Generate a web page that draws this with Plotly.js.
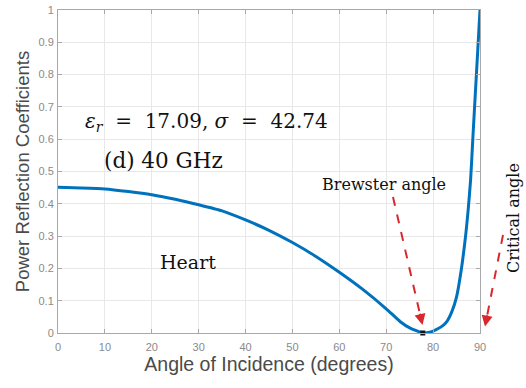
<!DOCTYPE html>
<html>
<head>
<meta charset="utf-8">
<script src="https://cdn.plot.ly/plotly-3.0.1.min.js"></script>
<style>html,body{margin:0;padding:0;background:#fff;}#chart{width:526px;height:388px;}</style>
</head>
<body>
<div id="chart"></div>
<script>
// Angle of incidence (degrees) and power reflection coefficient
const angles = [0, 5, 10, 15, 20, 25, 30, 35, 40, 45, 50, 55, 60, 65, 70, 73, 75, 77.8, 79, 80, 81, 82, 83, 84, 85, 86, 87, 87.5, 88, 88.5, 89, 89.5, 90];
const reflection = [0.451, 0.449, 0.446, 0.438, 0.428, 0.414, 0.397, 0.378, 0.350, 0.318, 0.280, 0.237, 0.188, 0.135, 0.075, 0.035, 0.016, 0.0, 0.002, 0.006, 0.013, 0.022, 0.037, 0.066, 0.112, 0.195, 0.310, 0.385, 0.475, 0.610, 0.740, 0.870, 1.0];
const brewsterAngle = [77.8];
const brewsterValue = [0];
const xTicks = [0, 10, 20, 30, 40, 50, 60, 70, 80, 90];
const yTicks = [0, 0.1, 0.2, 0.3, 0.4, 0.5, 0.6, 0.7, 0.8, 0.9, 1];
const yTickText = ['0', '0.1', '0.2', '0.3', '0.4', '0.5', '0.6', '0.7', '0.8', '0.9', '1'];

const W = 526, H = 388;
const mL = 58, mR = 46, mT = 10, mB = 55;
const pw = W - mL - mR, ph = H - mT - mB;
const px = (x) => (x - mL) / pw;
const py = (y) => (H - mB - y) / ph;

const red = '#d9282b';
const serif = 'DejaVu Serif, Liberation Serif, serif';
const sans = 'Liberation Sans, Arial, sans-serif';

const traces = [
  {x: angles, y: reflection, type: 'scatter', mode: 'lines',
   line: {color: '#0072BD', width: 3, shape: 'spline', smoothing: 0.5}, hoverinfo: 'skip'},
  {x: brewsterAngle, y: brewsterValue, type: 'scatter', mode: 'markers',
   marker: {color: '#111', size: 5, symbol: 'square'}, hoverinfo: 'skip', cliponaxis: false}
];

// arrows: start point and tip in pixels
const arrows = [
  {sx: 393, sy: 197, tx: 422.5, ty: 325},
  {sx: 503, sy: 235, tx: 485, ty: 326.5}
];
const shapes = [];
const anns = [];
arrows.forEach(a => {
  const dx = a.sx - a.tx, dy = a.sy - a.ty;
  const L = Math.hypot(dx, dy);
  const ux = dx / L, uy = dy / L;
  const ex = a.tx + ux * 10, ey = a.ty + uy * 10;
  shapes.push({type: 'line', xref: 'paper', yref: 'paper', x0: px(a.sx), y0: py(a.sy), x1: px(ex), y1: py(ey),
    line: {color: red, width: 2, dash: 'dash'}});
  anns.push({xref: 'paper', yref: 'paper', x: px(a.tx), y: py(a.ty), text: '', showarrow: true,
    ax: ux * 13, ay: uy * 13, arrowhead: 2, arrowsize: 1.1, arrowwidth: 2, arrowcolor: red});
});

const txt = (x, y, text, size, angle) => ({
  xref: 'paper', yref: 'paper', x: px(x), y: py(y), xanchor: 'center', yanchor: 'middle',
  text: text, showarrow: false, textangle: angle || 0, font: {family: serif, size: size, color: '#111'}
});
anns.push(
  txt(206, 122, '<i>ε</i><sub><i>r</i></sub>&nbsp;&nbsp;=&nbsp;&nbsp;17.09,&nbsp;<i>σ</i>&nbsp;&nbsp;=&nbsp;&nbsp;42.74', 20),
  txt(163, 160, '(d) 40 GHz', 21.5),
  txt(188, 262, 'Heart', 19),
  txt(384, 184, 'Brewster angle', 16),
  txt(513, 218, 'Critical angle', 16, -90)
);

const axisCommon = {
  showgrid: true, gridcolor: '#e8e8e8', gridwidth: 1,
  showline: true, linecolor: '#a8a8a8', linewidth: 1, mirror: 'ticks',
  ticks: 'inside', ticklen: 4, tickcolor: '#a8a8a8',
  zeroline: false,
  tickfont: {family: sans, size: 11, color: '#8a8a8a'}
};

const layout = {
  width: W, height: H,
  margin: {l: mL, r: mR, t: mT, b: mB},
  paper_bgcolor: '#fff', plot_bgcolor: '#fff',
  showlegend: false,
  xaxis: Object.assign({}, axisCommon, {
    range: [0, 90], tickvals: xTicks, ticktext: xTicks.map(String), ticklabelstandoff: 4,
    title: {text: 'Angle of Incidence (degrees)', standoff: 4,
      font: {family: sans, size: 19.5, color: '#4a4a4a'}}
  }),
  yaxis: Object.assign({}, axisCommon, {
    range: [0, 1], tickvals: yTicks, ticktext: yTickText, ticklabelstandoff: 1,
    title: {text: 'Power Reflection Coefficients', standoff: 4,
      font: {family: sans, size: 18.5, color: '#4a4a4a'}}
  }),
  shapes: shapes,
  annotations: anns
};

Plotly.newPlot('chart', traces, layout, {staticPlot: true, displayModeBar: false});
</script>
</body>
</html>
